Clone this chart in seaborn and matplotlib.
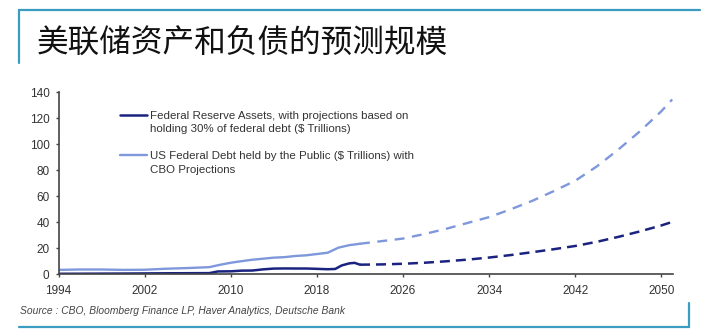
import matplotlib
matplotlib.use("Agg")
import matplotlib.pyplot as plt
from matplotlib.lines import Line2D
import seaborn as sns
import pandas as pd

# ---------------- data ----------------
fed_years_actual = [1994, 1996, 1998, 2000, 2002, 2004, 2006, 2007, 2008, 2008.8, 2010,
                    2011, 2012, 2013, 2014, 2015, 2016, 2017, 2018, 2019, 2019.7,
                    2020.3, 2021, 2021.5, 2022]
fed_values_actual = [0.40, 0.45, 0.52, 0.58, 0.68, 0.78, 0.85, 0.88, 0.90, 2.2, 2.3,
                     2.8, 2.9, 3.8, 4.4, 4.5, 4.45, 4.45, 4.2, 3.9, 4.1,
                     6.8, 8.4, 8.8, 7.4]
fed_years_proj = [2022, 2024, 2026, 2028, 2030, 2032, 2034, 2036, 2038, 2040, 2042,
                  2044, 2046, 2048, 2050, 2051]
fed_values_proj = [7.4, 7.6, 8.1, 8.9, 10.0, 11.3, 12.9, 14.8, 17.0, 19.3, 21.8,
                   25.0, 28.8, 33.0, 37.6, 40.3]

debt_years_actual = [1994, 1996, 1998, 2000, 2002, 2004, 2006, 2008, 2009, 2010, 2011,
                     2012, 2013, 2014, 2015, 2016, 2017, 2018, 2019, 2020, 2021, 2022]
debt_values_actual = [3.4, 3.7, 3.7, 3.4, 3.5, 4.3, 4.8, 5.5, 7.3, 8.9, 10.1,
                      11.2, 12.0, 12.8, 13.2, 14.1, 14.6, 15.6, 16.6, 20.5, 22.4, 23.5]
debt_years_proj = [2022, 2024, 2026, 2028, 2030, 2032, 2034, 2036, 2038, 2040, 2042,
                   2044, 2046, 2048, 2050, 2051]
debt_values_proj = [23.5, 25.5, 27.5, 31.0, 35.0, 39.5, 44.0, 50.0, 56.5, 64.0, 72.0,
                    83.0, 96.0, 110.0, 125.5, 134.5]

x_ticks = [1994, 2002, 2010, 2018, 2026, 2034, 2042, 2050]
y_ticks = [0, 20, 40, 60, 80, 100, 120, 140]

title_text = "美联储资产和负债的预测规模"
fed_label = ["Federal Reserve Assets, with projections based on",
             "holding 30% of federal debt ($ Trillions)"]
debt_label = ["US Federal Debt held by the Public ($ Trillions) with",
              "CBO Projections"]
source_text = "Source : CBO, Bloomberg Finance LP, Haver Analytics, Deutsche Bank"

# ---------------- styling ----------------
DARK = "#1b2380"
LIGHT = "#7f98dc"
FRAME = "#3a9cc0"
TXT = "#333333"

sns.set_style("ticks")
plt.rcParams["font.family"] = ["Liberation Sans", "DejaVu Sans"]

def make_df(years, values, kind):
    return pd.DataFrame({"year": years, "value": values, "kind": kind})

fed_df = pd.concat([make_df(fed_years_actual, fed_values_actual, "actual"),
                    make_df(fed_years_proj, fed_values_proj, "proj")], ignore_index=True)
debt_df = pd.concat([make_df(debt_years_actual, debt_values_actual, "actual"),
                     make_df(debt_years_proj, debt_values_proj, "proj")], ignore_index=True)

fig = plt.figure(figsize=(7.06, 3.36), dpi=100)
ax = fig.add_axes([58.5 / 706, 1 - 274.3 / 336, (673.3 - 58.5) / 706, (274.3 - 92.3) / 336])

sns.lineplot(data=debt_df, x="year", y="value", style="kind",
             dashes={"actual": "", "proj": (4.2, 3.2)}, color=LIGHT,
             linewidth=1.7, legend=False, ax=ax, sort=False)
sns.lineplot(data=fed_df, x="year", y="value", style="kind",
             dashes={"actual": "", "proj": (4.0, 2.4)}, color=DARK,
             linewidth=1.8, legend=False, ax=ax, sort=False)

ax.set_xlim(1994, 2051.1)
ax.set_ylim(0, 140)
ax.set_xticks(x_ticks)
ax.set_yticks(y_ticks)
ax.set_xticklabels([str(t) for t in x_ticks])
ax.set_xlabel("")
ax.set_ylabel("")
for s in ["top", "right"]:
    ax.spines[s].set_visible(False)
for s in ["left", "bottom"]:
    ax.spines[s].set_color("#444444")
    ax.spines[s].set_linewidth(1.2)
ax.tick_params(axis="both", colors="#444444", labelcolor=TXT, labelsize=8.5,
               length=2.5, width=1.0)
ax.tick_params(axis="x", pad=5)
ax.tick_params(axis="y", pad=4)

# legend (each text line is its own row so the key sits on the first line)
blank = Line2D([], [], color="none")
handles = [Line2D([], [], color=DARK, lw=1.8), blank, blank,
           Line2D([], [], color=LIGHT, lw=1.7), blank]
labels = [fed_label[0], fed_label[1], " ", debt_label[0], debt_label[1]]
leg = ax.legend(handles, labels, loc="upper left", bbox_to_anchor=(0.100, 0.90),
                frameon=False, fontsize=8.25, borderpad=0, borderaxespad=0,
                handlelength=2.35, handletextpad=0.3, labelspacing=0.31)
for t in leg.get_texts():
    t.set_color(TXT)

# title
fig.text(37 / 706, 1 - 44 / 336, title_text, fontsize=22.8, color="#111111",
         family=["Noto Sans CJK SC", "DejaVu Sans"], va="center", ha="left")

# source
fig.text(20 / 706, 1 - 310.7 / 336, source_text, fontsize=7.4, style="italic",
         color="#444444", family=["Liberation Sans", "DejaVu Sans"],
         va="center", ha="left")

# decorative frame
frame_lines = [
    ([19, 700], [10, 10]),
    ([19, 19], [10, 63]),
    ([19, 689], [326.5, 326.5]),
    ([689, 689], [303, 326.5]),
]
for xs, ys in frame_lines:
    fig.add_artist(Line2D([x / 706 for x in xs], [1 - y / 336 for y in ys],
                          color=FRAME, lw=1.6, transform=fig.transFigure))

fig.savefig("out.png", dpi=100)
